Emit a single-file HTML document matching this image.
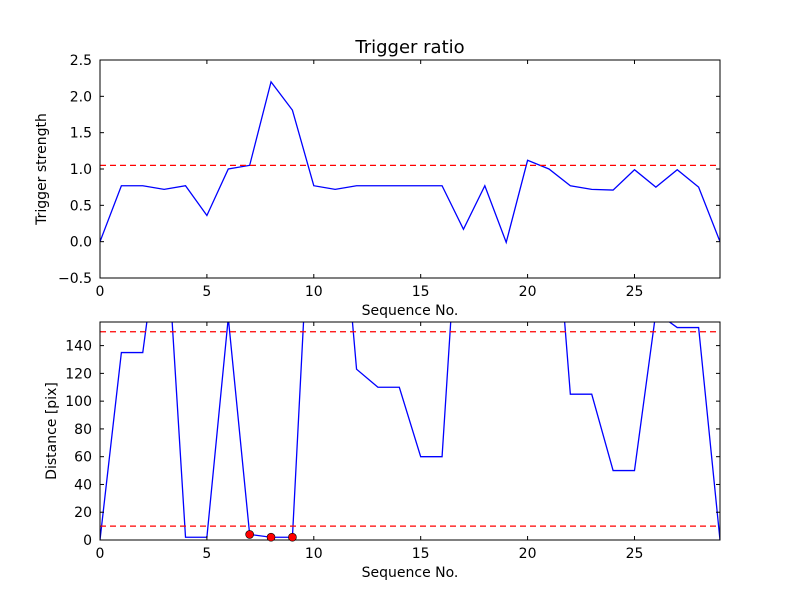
<!DOCTYPE html>
<html><head><meta charset="utf-8"><style>
body{margin:0;background:#fff;}
svg text{font-family:"DejaVu Sans","Liberation Sans",sans-serif;}
</style></head><body>
<svg id="c" width="800" height="600" xmlns="http://www.w3.org/2000/svg"></svg>
<script>
const seqTop=[0,1,2,3,4,5,6,7,8,9,10,11,12,13,14,15,16,17,18,19,20,21,22,23,24,25,26,27,28,29];
const strength=[0,0.77,0.77,0.72,0.77,0.36,1.0,1.05,2.2,1.81,0.77,0.72,0.77,0.77,0.77,0.77,0.77,0.17,0.77,-0.01,1.12,1.0,0.77,0.72,0.71,0.99,0.75,0.99,0.75,0.0];
const strengthThreshold=1.05;
const distance=[0,135,135,250,2,2,160,4,2,2,300,300,123,110,110,60,60,300,300,300,300,300,105,105,50,50,164,153,153,0];
const distThresholds=[150,10];
const flaggedIdx=[7,8,9];
const topYTicks=[-0.5,0.0,0.5,1.0,1.5,2.0,2.5];
const botYTicks=[0,20,40,60,80,100,120,140];
const xTicks=[0,5,10,15,20,25];

const svg=document.getElementById('c');
const NS='http://www.w3.org/2000/svg';
function mk(tag,attrs,parent,name,txt){const e=document.createElementNS(NS,tag);for(const k in attrs)e.setAttribute(k,attrs[k]);


if(txt!==undefined)e.textContent=txt;(parent||svg).appendChild(e);return e;}

const L=100,R=720;
const xs=v=>L+(v-0)/(29-0)*(R-L);
function panel(top,bot,ymin,ymax,name,ys,ticks,fmt,ylabel){
  const y=v=>bot-(v-ymin)/(ymax-ymin)*(bot-top);
  const g=mk('g',{},svg,name);
  const cid='clip-'+name;
  const cp=mk('clipPath',{id:cid},g,name+'-clip');
  mk('rect',{x:L,y:top,width:R-L,height:bot-top},cp,name+'-clip-rect');
  const pg=mk('g',{'clip-path':'url(#'+cid+')'},g,name+'-plot-area');
  mk('polyline',{points:ys.map((v,i)=>xs(i)+','+y(v)).join(' '),fill:'none',stroke:'#0000ff','stroke-width':1.3},pg,name+'-series-line');
  mk('rect',{x:L,y:top,width:R-L,height:bot-top,fill:'none',stroke:'#000','stroke-width':1},g,name+'-frame');
  ticks.forEach(t=>{const yy=y(t);
    mk('line',{x1:L,x2:L+4,y1:yy,y2:yy,stroke:'#000'},g,name+'-ytick');
    mk('line',{x1:R,x2:R-4,y1:yy,y2:yy,stroke:'#000'},g,name+'-ytick-right');
    mk('text',{x:L-8,y:yy+5,'text-anchor':'end','font-size':14},g,name+'-ytick-label',fmt(t));});
  xTicks.forEach(t=>{const xx=xs(t);
    mk('line',{x1:xx,x2:xx,y1:bot,y2:bot-4,stroke:'#000'},g,name+'-xtick');
    mk('line',{x1:xx,x2:xx,y1:top,y2:top+4,stroke:'#000'},g,name+'-xtick-top');
    mk('text',{x:xx,y:bot+18,'text-anchor':'middle','font-size':14},g,name+'-xtick-label',String(t));});
  mk('text',{x:410,y:bot+37,'text-anchor':'middle','font-size':14},g,name+'-x-axis-title','Sequence No.');
  mk('text',{x:0,y:0,'text-anchor':'middle','font-size':14,transform:'translate('+(ylabel[1])+','+((top+bot)/2)+') rotate(-90)'},g,name+'-y-axis-title',ylabel[0]);
  return {y,g,pg};
}
const p1=panel(60,278,-0.5,2.5,'top-panel',strength,topYTicks,t=>(t<0?'\u22120.5':t.toFixed(1)),['Trigger strength',46]);
mk('line',{x1:L,x2:R,y1:p1.y(strengthThreshold),y2:p1.y(strengthThreshold),stroke:'#ff0000','stroke-dasharray':'6,4','stroke-width':1.2},p1.pg,'strength-threshold-line');
mk('text',{x:410,y:53,'text-anchor':'middle','font-size':18},svg,'chart-title','Trigger ratio');

const p2=panel(322,540,0,157,'bottom-panel',distance,botYTicks,t=>String(t),['Distance [pix]',56]);
distThresholds.forEach(v=>{
  mk('line',{x1:L,x2:R,y1:p2.y(v),y2:p2.y(v),stroke:'#ff0000','stroke-dasharray':'6,4','stroke-width':1.2},p2.pg,'distance-threshold-line');
});
flaggedIdx.forEach(i=>{
  mk('circle',{cx:xs(i),cy:p2.y(distance[i]),r:4,fill:'#ff0000',stroke:'#000','stroke-width':0.6},svg,'flagged-point');
});
</script>
</body></html>
